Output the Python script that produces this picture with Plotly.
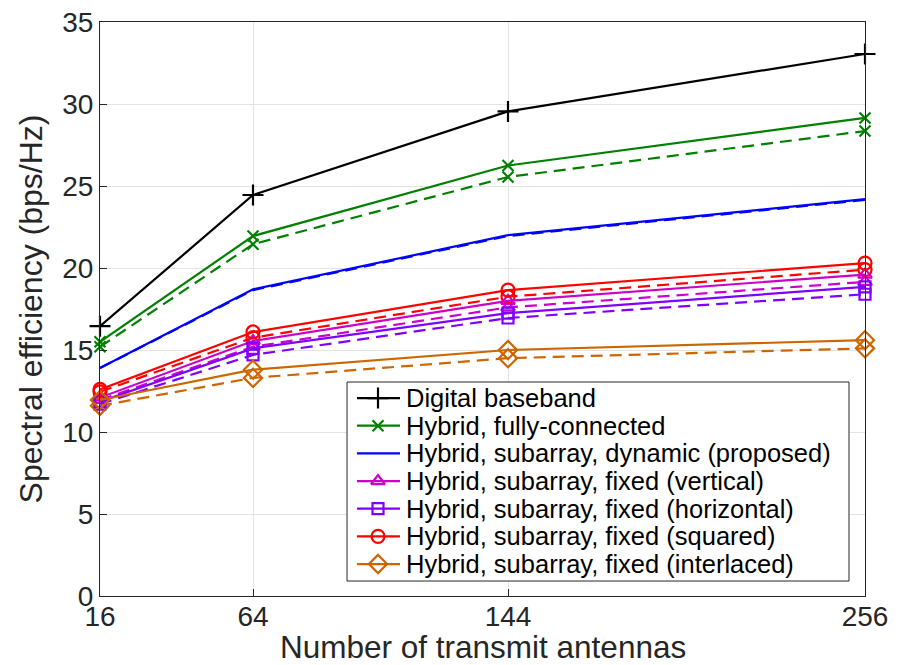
import plotly.graph_objects as go

antennas = [16, 64, 144, 256]

digital = [16.45, 24.45, 29.55, 33.05]
fc_solid = [15.5, 21.95, 26.25, 29.15]
fc_dash = [15.2, 21.45, 25.55, 28.35]
dyn_solid = [13.9, 18.7, 22.0, 24.2]
dyn_dash = [13.9, 18.65, 21.95, 24.15]
vert_solid = [12.1, 15.55, 18.0, 19.6]
vert_dash = [11.95, 15.2, 17.6, 19.15]
horiz_solid = [11.85, 15.1, 17.25, 18.85]
horiz_dash = [11.7, 14.7, 16.95, 18.4]
sq_solid = [12.6, 16.1, 18.65, 20.3]
sq_dash = [12.45, 15.75, 18.25, 19.9]
inter_solid = [11.95, 13.8, 15.0, 15.6]
inter_dash = [11.6, 13.3, 14.5, 15.1]

names = [
    "Digital baseband",
    "Hybrid, fully-connected",
    "Hybrid, subarray, dynamic (proposed)",
    "Hybrid, subarray, fixed (vertical)",
    "Hybrid, subarray, fixed (horizontal)",
    "Hybrid, subarray, fixed (squared)",
    "Hybrid, subarray, fixed (interlaced)",
]

# (name, solid, dashed, colour, symbol, size)
series = [
    (names[0], digital, None, "#000000", "cross-thin-open", 15),
    (names[1], fc_solid, fc_dash, "#008000", "x-thin-open", 11),
    (names[2], dyn_solid, dyn_dash, "#0000ff", None, 0),
    (names[3], vert_solid, vert_dash, "#cc00cc", "triangle-up-open", 12),
    (names[4], horiz_solid, horiz_dash, "#8000ff", "square-open", 11),
    (names[5], sq_solid, sq_dash, "#ff0000", "circle-open", 13),
    (names[6], inter_solid, inter_dash, "#cc6600", "diamond-open", 14),
]

LW = 2.2
DASH = "12px,7px"


def marker_for(sym, size, color):
    if not sym:
        return None
    return dict(symbol=sym, size=size, color=color, line=dict(width=LW, color=color))


fig = go.Figure()
# dashed curves first, solid on top
for name, solid, dash, color, sym, size in series:
    if dash is None:
        continue
    fig.add_trace(go.Scatter(x=antennas, y=dash, name=name + " (dashed)",
                             mode="lines+markers" if sym else "lines", showlegend=False,
                             line=dict(color=color, width=LW, dash=DASH), cliponaxis=False,
                             marker=marker_for(sym, size, color)))
for name, solid, dash, color, sym, size in series:
    fig.add_trace(go.Scatter(x=antennas, y=solid, name=name,
                             mode="lines+markers" if sym else "lines", showlegend=False,
                             line=dict(color=color, width=LW), cliponaxis=False,
                             marker=marker_for(sym, size, color)))

# ---- hand-drawn legend (MATLAB style) on an overlay axis spanning the plot area ----
box_x0, box_x1 = 0.3229, 0.9791
box_y0, box_y1 = 0.0261, 0.3728
samp_x0, samp_x1, samp_xm = 0.3359, 0.3922, 0.3634
text_x = 0.3975
row_top, row_step = 0.3449, 0.0482

fig.add_trace(go.Scatter(x=[box_x0, box_x1, box_x1, box_x0, box_x0],
                         y=[box_y0, box_y0, box_y1, box_y1, box_y0],
                         mode="lines", fill="toself", fillcolor="white",
                         line=dict(color="#262626", width=1), xaxis="x2", yaxis="y2",
                         hoverinfo="skip", showlegend=False))
for i, (name, solid, dash, color, sym, size) in enumerate(series):
    yr = row_top - i * row_step
    fig.add_trace(go.Scatter(x=[samp_x0, samp_x1], y=[yr, yr], mode="lines",
                             line=dict(color=color, width=LW), xaxis="x2", yaxis="y2",
                             hoverinfo="skip", showlegend=False))
    if sym:
        fig.add_trace(go.Scatter(x=[samp_xm], y=[yr], mode="markers",
                                 marker=marker_for(sym, size, color), xaxis="x2", yaxis="y2",
                                 hoverinfo="skip", showlegend=False))
    fig.add_annotation(x=text_x, y=yr, xref="x2", yref="y2", text=name, showarrow=False,
                       xanchor="left", yanchor="middle",
                       font=dict(size=25.5, color="#000000"))

# x-axis title placed as an annotation below the tick labels
fig.add_annotation(x=0.5, y=-0.0889, xref="paper", yref="paper",
                   text="Number of transmit antennas", showarrow=False,
                   xanchor="center", yanchor="middle",
                   font=dict(size=31.5, color="#262626"))

axis_common = dict(showline=True, linecolor="#262626", linewidth=1, mirror=True,
                   showgrid=True, gridcolor="#e3e3e3", gridwidth=1,
                   ticks="inside", ticklen=7, tickcolor="#262626", zeroline=False,
                   ticklabeloverflow="allow", automargin=False,
                   tickfont=dict(size=28, color="#262626"))

fig.update_layout(
    width=893, height=657,
    margin=dict(l=92, r=36, t=14, b=69),
    paper_bgcolor="white", plot_bgcolor="white",
    font=dict(family="Liberation Sans, Arial, sans-serif", color="#262626"),
    xaxis=dict(range=[16, 256], tickvals=antennas, ticktext=[str(a) for a in antennas],
               ticklabelstandoff=-5, **axis_common),
    yaxis=dict(range=[0, 35], tickvals=[0, 5, 10, 15, 20, 25, 30, 35],
               title=dict(text="Spectral efficiency (bps/Hz)", font=dict(size=32, color="#262626"), standoff=10),
               **axis_common),
    xaxis2=dict(overlaying="x", range=[0, 1], visible=False, fixedrange=True),
    yaxis2=dict(overlaying="y", range=[0, 1], visible=False, fixedrange=True),
    showlegend=False,
)

fig.write_html("out.html")
